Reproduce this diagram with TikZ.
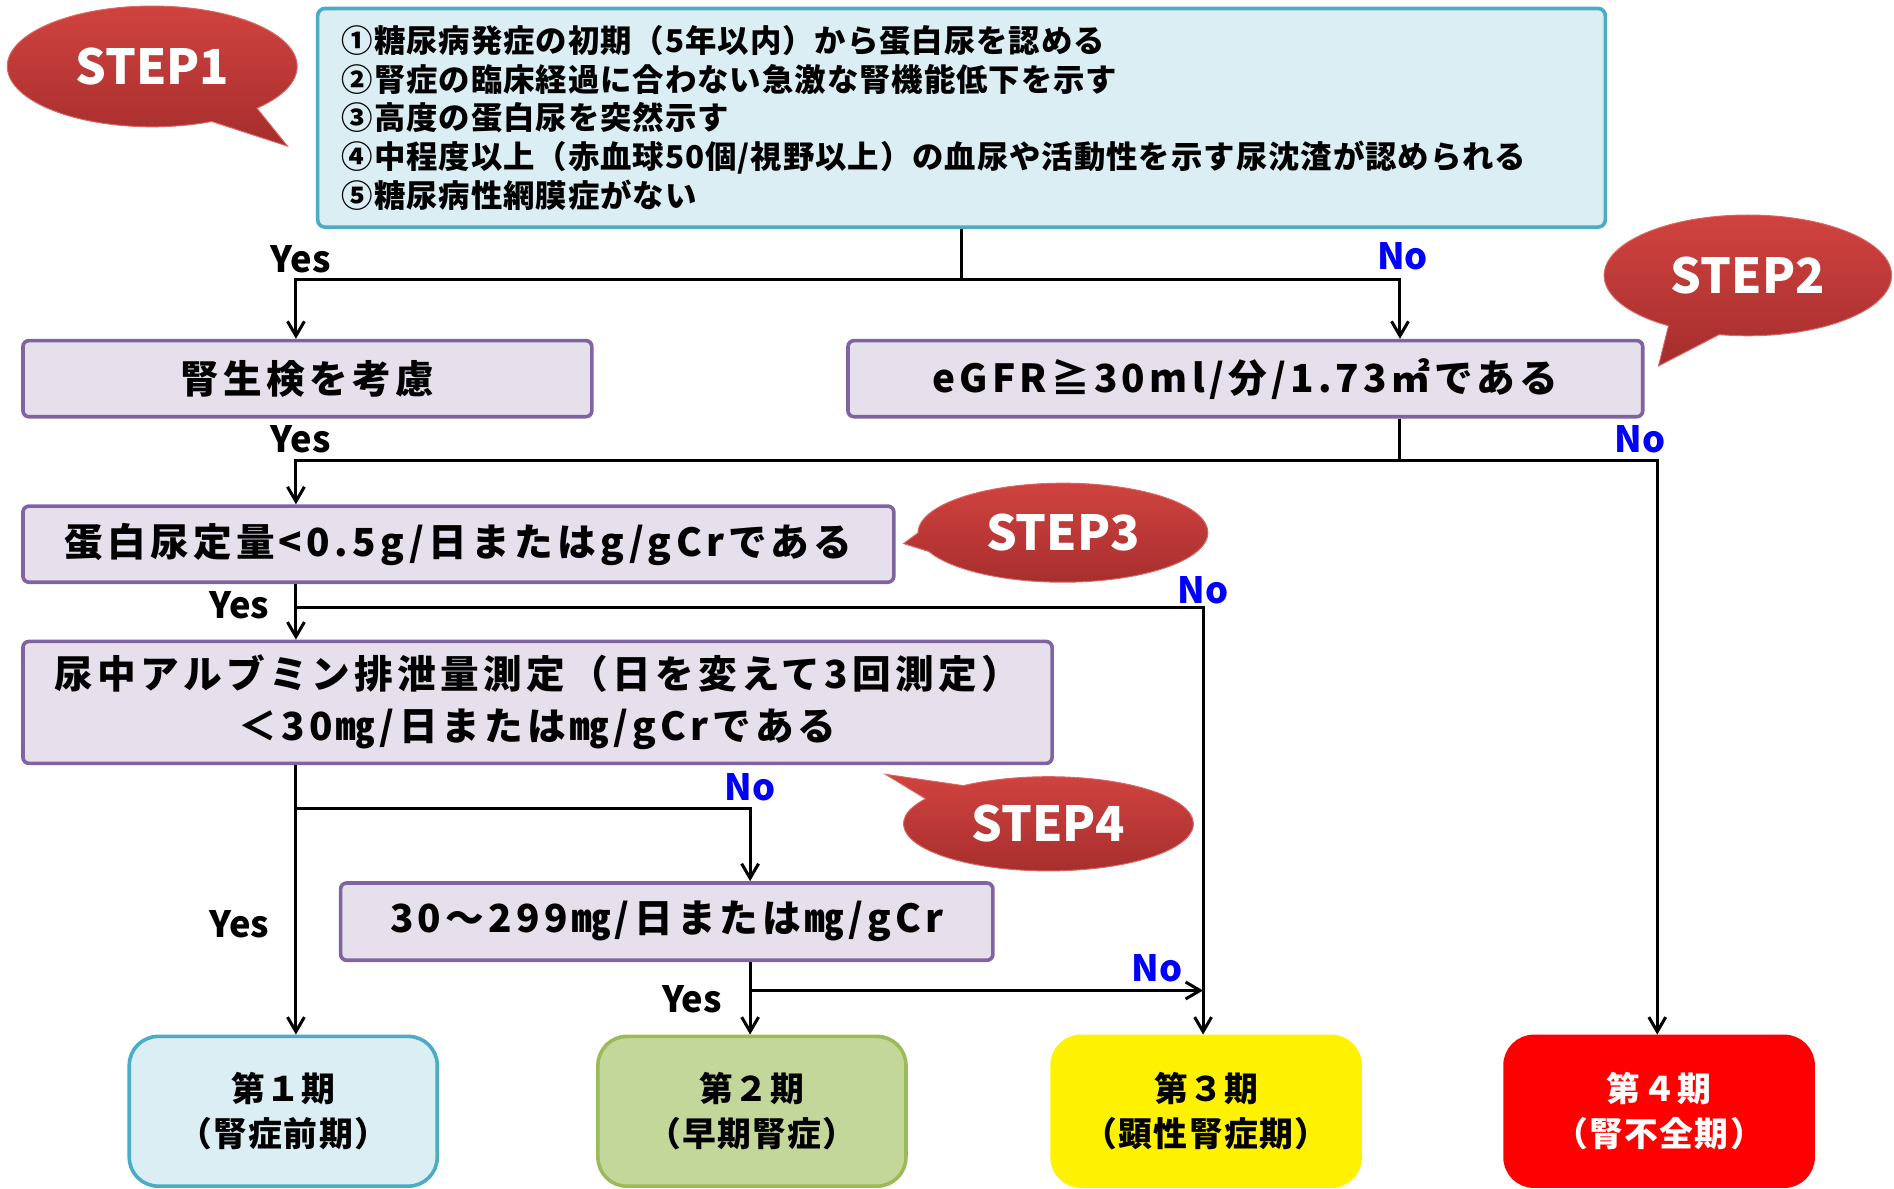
\documentclass[tikz,border=0pt]{standalone}
\usepackage{fontspec}
\setmainfont{Noto Sans CJK JP}
\newfontfamily\boxfont{Noto Sans CJK JP}[LetterSpace=11]
\newfontfamily\topfont{Noto Sans CJK JP}[LetterSpace=3]
\newfontfamily\stfont{Noto Sans CJK JP}[LetterSpace=4]
\usetikzlibrary{shapes.callouts,arrows.meta}
\definecolor{tealB}{HTML}{4BACC6}
\definecolor{tealF}{HTML}{DAEEF3}
\definecolor{purB}{HTML}{8064A2}
\definecolor{purF}{HTML}{E5E0EC}
\definecolor{grnB}{HTML}{9BBB59}
\definecolor{grnF}{HTML}{C4D79B}
\definecolor{redT}{HTML}{D0433F}
\definecolor{redD}{HTML}{A52D2D}
\definecolor{noblue}{HTML}{0000FF}
\begin{document}
\begin{tikzpicture}[x=1pt,y=-1pt,
  pbox/.style={draw=purB,fill=purF,line width=3pt,rounded corners=5pt,inner sep=0pt,
    font=\boxfont\bfseries\fontsize{32}{43}\selectfont,align=center},
  stage/.style={line width=3pt,rounded corners=24pt,inner sep=0pt,minimum width=255pt,
    minimum height=124pt,font=\stfont\bfseries\fontsize{28}{37}\selectfont,align=center},
  bubble/.style={ellipse callout,callout pointer arc=22,inner sep=0pt,
    top color=redT,bottom color=redD,draw=redT!80!white,line width=0.8pt,
    text=white,font=\bfseries\fontsize{40}{40}\selectfont},
  conn/.style={line width=2.5pt,line join=miter},
  arr/.style={conn,-{Straight Barb[length=12pt,width=14pt]}},
  yes/.style={font=\bfseries\fontsize{30}{30}\selectfont,inner sep=0pt},
  no/.style={yes,text=noblue}]
\useasboundingbox (0,0) rectangle (1568,984);

% STEP 1 criteria
\node[draw=tealB,fill=tealF,line width=3pt,rounded corners=6pt,minimum width=1066pt,
  minimum height=181pt,text width=1026pt,inner xsep=20pt,inner ysep=0pt,align=left,
  font=\topfont\bfseries\fontsize{26}{32}\selectfont] (top) at (796,97.5)
  {①糖尿病発症の初期（5年以内）から蛋白尿を認める\\
   ②腎症の臨床経過に合わない急激な腎機能低下を示す\\
   ③高度の蛋白尿を突然示す\\
   ④中程度以上（赤血球50個/視野以上）の血尿や活動性を示す尿沈渣が認められる\\
   ⑤糖尿病性網膜症がない};

% decision boxes
\node[pbox,minimum width=471pt,minimum height=63pt] (kens) at (254.5,313.5) {腎生検を考慮};
\node[pbox,minimum width=658pt,minimum height=63pt] (egfr) at (1031,313.5) {eGFR≧30ml/分/1.73㎡である};
\node[pbox,minimum width=721pt,minimum height=63pt] (tanp) at (379.5,450.5) {蛋白尿定量<0.5g/日またはg/gCrである};
\node[pbox,minimum width=852pt,minimum height=101pt] (nyo) at (445,581.5)
  {尿中アルブミン排泄量測定（日を変えて3回測定）\\＜30㎎/日または㎎/gCrである};
\node[pbox,minimum width=540pt,minimum height=64pt] (mid) at (552,763) {30～299㎎/日または㎎/gCr};

% stage boxes
\node[stage,draw=tealB,fill=tealF] (st1) at (234.5,920) {第１期\\（腎症前期）};
\node[stage,draw=grnB,fill=grnF] (st2) at (622.5,920) {第２期\\（早期腎症）};
\node[stage,draw=yellow,fill=yellow] (st3) at (998.5,920) {第３期\\（顕性腎症期）};
\node[stage,draw=red,fill=red,text=white] (st4) at (1373.5,920) {第４期\\（腎不全期）};

% bubbles
\node[bubble,minimum width=240pt,minimum height=100pt,callout absolute pointer={(238,121)}] (s1) at (126,55) {STEP1};
\node[bubble,minimum width=238pt,minimum height=100pt,callout absolute pointer={(1373,303)}] (s2) at (1447,228) {STEP2};
\node[bubble,minimum width=240pt,minimum height=82pt,callout absolute pointer={(748,450)}] (s3) at (880,441) {STEP3};
\node[bubble,minimum width=240pt,minimum height=78pt,callout absolute pointer={(733,641)}] (s4) at (868,682) {STEP4};

% junction coordinates
\coordinate (cL) at (245,231);
\coordinate (cR) at (1159,231);
\coordinate (c2L) at (245,381);
\coordinate (c2R) at (1372,381);
\coordinate (c3R) at (996,503);
\coordinate (c4R) at (621,669);
\coordinate (c5R) at (996,820);

% connectors
\draw[arr] (top.south) |- (cL) -- (cL |- kens.north);
\draw[arr] (top.south) |- (cR) -- (cR |- egfr.north);
\draw[arr] (cR |- egfr.south) |- (c2L) -- (c2L |- tanp.north);
\draw[arr] (cR |- egfr.south) |- (c2R) -- (c2R |- st4.north);
\draw[arr] (c2L |- tanp.south) -- (c2L |- nyo.north);
\draw[arr] (c2L |- tanp.south) |- (c3R) -- (c3R |- st3.north);
\draw[arr] (c2L |- nyo.south) -- (c2L |- st1.north);
\draw[arr] (c2L |- nyo.south) |- (c4R) -- (c4R |- mid.north);
\draw[arr] (c4R |- mid.south) -- (c4R |- st2.north);
\draw[arr] (c4R |- mid.south) |- (c5R);

% labels
\node[yes] (y1) at (249,215) {Yes};
\node[no] (n1) at (1161,212) {No};
\node[yes] (y2) at (249,364) {Yes};
\node[no] (n2) at (1358,364) {No};
\node[yes] (y3) at (198,501) {Yes};
\node[no] (n3) at (996,489) {No};
\node[no] (n4) at (621,652) {No};
\node[yes] (y4) at (198,765) {Yes};
\node[yes] (y5) at (573,827) {Yes};
\node[no] (n5) at (958,802) {No};
\end{tikzpicture}
\end{document}
